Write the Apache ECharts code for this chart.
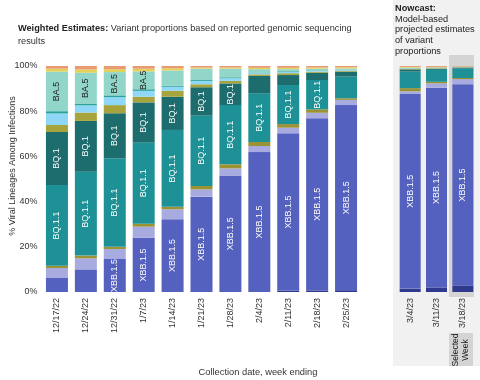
<!DOCTYPE html>
<html><head><meta charset="utf-8">
<script src="https://cdn.jsdelivr.net/npm/echarts@6/dist/echarts.min.js"></script>
<style>html,body{margin:0;padding:0;background:#fff}#c{width:480px;height:380px}</style>
</head><body><div id="c"></div>
<script>
var weeksWeighted = ['12/17/22','12/24/22','12/31/22','1/7/23','1/14/23','1/21/23','1/28/23','2/4/23','2/11/23','2/18/23','2/25/23'];
var weeksNowcast = ['3/4/23','3/11/23','3/18/23'];
var yTicks = ['0%','20%','40%','60%','80%','100%'];

// weighted estimates (bottom to top), percent
var w_XBB151 = [0,0,0,0,0,0,0,0,0.5,0.7,0.8];
var w_XBB15  = [6.2,10.0,14.6,24.0,32.2,42.2,51.5,61.9,69.7,76.2,81.9];
var w_XBB    = [4.4,4.9,4.4,4.9,4.4,3.2,3.2,2.7,2.5,2.4,2.3];
var w_BN1    = [1.0,1.2,1.0,1.3,1.1,1.5,1.8,1.8,1.6,1.5,0.7];
var w_BQ11   = [35.7,37.1,39.2,35.9,34.0,31.1,26.2,21.5,17.3,13.0,9.6];
var w_BQ1    = [23.5,22.5,19.9,17.8,14.7,12.6,9.6,7.7,4.4,3.2,2.2];
var w_BF7    = [3.1,3.7,3.6,2.5,2.7,1.3,1.1,0.7,0.8,0.5,0.4];
var w_BA526  = [5.1,3.2,3.5,2.6,1.7,1.5,1.2,0.5,0.6,0.4,0.3];
var w_BA46   = [1.0,0.8,0.8,0.7,0.5,0.4,0.4,0.3,0.3,0.2,0.2];
var w_BA5    = [17.5,13.6,10.3,7.9,6.7,5.0,3.8,1.5,0.9,0.7,0.5];
var w_BA275  = [1.3,1.5,1.3,1.2,1.0,0.5,0.5,0.6,0.6,0.5,0.5];
var w_Other  = [1.2,1.5,1.4,1.2,1.0,0.7,0.7,0.8,0.8,0.7,0.6];

// nowcast
var n_XBB151 = [1.5,2.0,2.8];
var n_XBB15  = [86.1,88.4,89.1];
var n_XBB    = [1.2,1.9,2.3];
var n_BN1    = [1.4,0.7,0.5];
var n_BQ11   = [7.3,5.3,4.2];
var n_BQ1    = [1.0,0.5,0.3];
var n_BF7    = [0.2,0.2,0.1];
var n_BA526  = [0.2,0.1,0.1];
var n_BA46   = [0.1,0.1,0.1];
var n_BA5    = [0.3,0.2,0.1];
var n_BA275  = [0.3,0.2,0.2];
var n_Other  = [0.4,0.4,0.2];

var variants = [
  {name:'XBB.1.5.1', w:w_XBB151, n:n_XBB151, color:'#2f3a8f'},
  {name:'XBB.1.5',   w:w_XBB15,  n:n_XBB15,  color:'#5561be', label:'#ffffff', min:12},
  {name:'XBB',       w:w_XBB,    n:n_XBB,    color:'#a7abdf'},
  {name:'BN.1',      w:w_BN1,    n:n_BN1,    color:'#9c9236'},
  {name:'BQ.1.1',    w:w_BQ11,   n:n_BQ11,   color:'#1d9195', label:'#ffffff', min:11},
  {name:'BQ.1',      w:w_BQ1,    n:n_BQ1,    color:'#1e6d6e', label:'#ffffff', min:8.5},
  {name:'BF.7',      w:w_BF7,    n:n_BF7,    color:'#a7a33d'},
  {name:'BA.5.2.6',  w:w_BA526,  n:n_BA526,  color:'#8ed7f7'},
  {name:'BA.4.6',    w:w_BA46,   n:n_BA46,   color:'#2aa39a'},
  {name:'BA.5',      w:w_BA5,    n:n_BA5,    color:'#92d5c9', label:'#1a1a1a', min:7},
  {name:'BA.2.75',   w:w_BA275,  n:n_BA275,  color:'#e2d25c'},
  {name:'Other',     w:w_Other,  n:n_Other,  color:'#e99a70'}
];

var FONT = 'Liberation Sans, Arial, sans-serif';
var series = [];
variants.forEach(function(v){
  [['w',0,22],['n',1,21]].forEach(function(g){
    var s = {
      name: v.name, type:'bar', stack: g[0], xAxisIndex:g[1], yAxisIndex:g[1],
      data: v[g[0]], barWidth: g[2],
      itemStyle:{color:v.color}, emphasis:{disabled:true},
      silent:true
    };
    if (v.label) {
      (function(min, name){
        s.label = {show:true, position:'inside', rotate:90, color:v.label,
          fontSize:9, fontFamily:FONT,
          formatter:function(p){ return p.value >= min ? name : ''; }};
      })(v.min, v.name);
    }
    series.push(s);
  });
});

var chart = echarts.init(document.getElementById('c'), null, {renderer:'canvas'});
chart.setOption({
  animation:false,
  backgroundColor:'#ffffff',
  textStyle:{fontFamily:FONT},
  grid:[
    {left:42.5, right:480-360.5, top:66, bottom:380-292, containLabel:false, outerBoundsMode:'none'},
    {left:397, right:480-476, top:66, bottom:380-292, containLabel:false, outerBoundsMode:'none'}
  ],
  xAxis:[
    {type:'category', gridIndex:0, data:weeksWeighted,
     axisLine:{show:false}, axisTick:{show:false},
     axisLabel:{rotate:90, fontSize:9, color:'#333', margin:6, fontFamily:FONT}},
    {type:'category', gridIndex:1, data:weeksNowcast,
     axisLine:{show:false}, axisTick:{show:false},
     axisLabel:{rotate:90, fontSize:9, color:'#333', margin:6, fontFamily:FONT}}
  ],
  yAxis:[
    {type:'value', gridIndex:0, min:0, max:100, interval:20,
     axisLine:{show:false}, axisTick:{show:false}, splitLine:{show:false},
     axisLabel:{fontSize:9, color:'#333', margin:5, fontFamily:FONT,
       formatter:function(v){ return yTicks[Math.round(v/20)]; }}},
    {type:'value', gridIndex:1, min:0, max:100, interval:20, show:false,
     splitLine:{show:false}}
  ],
  graphic:[
    {type:'rect', z:-10, shape:{x:393, y:0, width:87, height:366}, style:{fill:'#f1f1f1'}},
    {type:'rect', z:-9, shape:{x:449, y:55, width:25, height:242}, style:{fill:'#d4d4d4'}},
    {type:'rect', z:-9, shape:{x:449, y:333, width:24, height:33}, style:{fill:'#d4d4d4'}},
    {type:'text', x:461, y:350, rotation:Math.PI/2, style:{text:'Selected\nWeek', fontSize:8.5, lineHeight:10,
      fontFamily:FONT, fill:'#222', align:'center', verticalAlign:'middle'}},
    {type:'text', x:13, y:166, rotation:Math.PI/2, style:{text:'% Viral Lineages Among Infections',
      fontSize:9, fontFamily:FONT, fill:'#333', align:'center', verticalAlign:'middle'}},
    {type:'text', x:18, y:22, style:{
      text:'{b|Weighted Estimates:} Variant proportions based on reported genomic sequencing\nresults',
      fontSize:9.2, lineHeight:13, fontFamily:FONT, fill:'#333',
      rich:{b:{fontWeight:'bold', fontSize:9.2, fontFamily:FONT, fill:'#222'}}}},
    {type:'text', x:395, y:3, style:{
      text:'{b|Nowcast:}\nModel-based\nprojected estimates\nof variant\nproportions',
      fontSize:9.2, lineHeight:10.7, fontFamily:FONT, fill:'#222',
      rich:{b:{fontWeight:'bold', fontSize:9.2, fontFamily:FONT, fill:'#222'}}}},
    {type:'text', x:258, y:372, style:{text:'Collection date, week ending', fontSize:9.3,
      fontFamily:FONT, fill:'#333', align:'center', verticalAlign:'middle'}}
  ],
  series:series
});
</script></body></html>
